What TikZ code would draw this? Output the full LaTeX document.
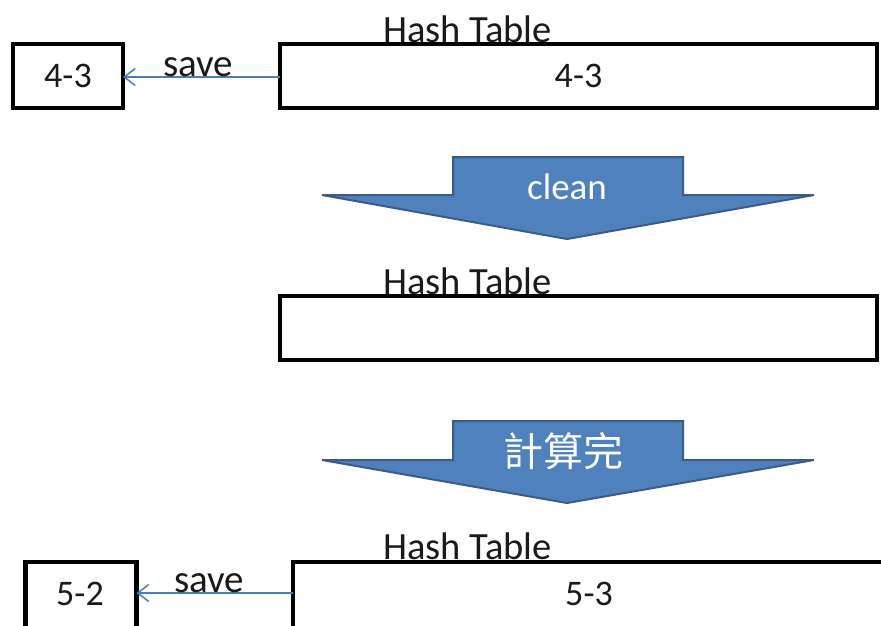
\documentclass[tikz,border=0pt]{standalone}
\usepackage{fontspec}
\setmainfont{Carlito}
\newfontfamily\cjkfont{Noto Sans CJK TC}
\usetikzlibrary{arrows.meta}
\definecolor{officeblue}{HTML}{4F81BD}
\definecolor{officeblueline}{HTML}{385D8A}
\definecolor{connblue}{HTML}{4A7EBB}
\definecolor{inktext}{HTML}{1A1A1A}
\tikzset{
  tablebox/.style={draw=black, line width=4.5pt, fill=white, inner sep=0pt, outer sep=0pt,
    text=inktext, font=\fontsize{36}{40}\selectfont},
  bigbox/.style={tablebox, minimum width=597pt, minimum height=64pt},
  smallbox/.style={tablebox, minimum width=110pt, minimum height=64pt},
  htlabel/.style={anchor=base west, inner sep=0pt, text=inktext, font=\fontsize{38.5}{42}\selectfont},
  savelabel/.style={anchor=base, inner sep=0pt, text=inktext, font=\fontsize{39}{42}\selectfont},
  savearrow/.style={draw=connblue, line width=1.5pt, -{Straight Barb[length=11pt,width=17pt,line width=1.5pt]}},
  bigarrow/.style={fill=officeblue, draw=officeblueline, line width=2pt, line join=miter},
  arrowtext/.style={text=white, inner sep=0pt}
}
\begin{document}
\begin{tikzpicture}[x=1pt,y=-1pt]
\useasboundingbox (0,0) rectangle (881,625);
\clip (0,0) rectangle (881,625);
\fill[white] (0,0) rectangle (881,625);

% first row
\node[htlabel] (ht1) at (383,42) {Hash Table};
\node[bigbox] (tab1) at (578.5,76) {4-3};
\node[smallbox] (keep1) at (68,76) {4-3};
\draw[savearrow] (tab1.west |- 0,77) coordinate (s1) -- (keep1.east |- s1);
\node[savelabel] (sv1) at (198,76) {save};

% clean arrow
\draw[bigarrow] (453,157) -- (683,157) -- (683,195) -- (814,195) -- (567,239)
  -- (322,195) -- (453,195) -- cycle;
\node[arrowtext, font=\fontsize{37}{40}\selectfont] (clean) at (567,187) {clean};

% second row
\node[htlabel] (ht2) at (383,294) {Hash Table};
\node[bigbox] (tab2) at (578.5,328) {};

% compute arrow
\draw[bigarrow] (453,421) -- (683,421) -- (683,460) -- (814,460) -- (567,503)
  -- (322,460) -- (453,460) -- cycle;
\node[arrowtext, font=\cjkfont\fontsize{40}{42}\selectfont] (done) at (563,451) {計算完};

% third row
\node[htlabel] (ht3) at (383,559) {Hash Table};
\node[tablebox, minimum width=592pt, minimum height=70pt] (tab3) at (589,597) {};
\node[inner sep=0pt, text=inktext, font=\fontsize{36}{40}\selectfont] (tab3text) at (589,594) {5-3};
\node[smallbox, minimum width=111pt, minimum height=70pt] (keep3) at (81,597) {};
\node[inner sep=0pt, text=inktext, font=\fontsize{36}{40}\selectfont] (keep3text) at (80,594) {5-2};
\draw[savearrow] (tab3.west |- 0,593) coordinate (s3) -- (keep3.east |- s3);
\node[savelabel] (sv3) at (209,592) {save};
\end{tikzpicture}
\end{document}
